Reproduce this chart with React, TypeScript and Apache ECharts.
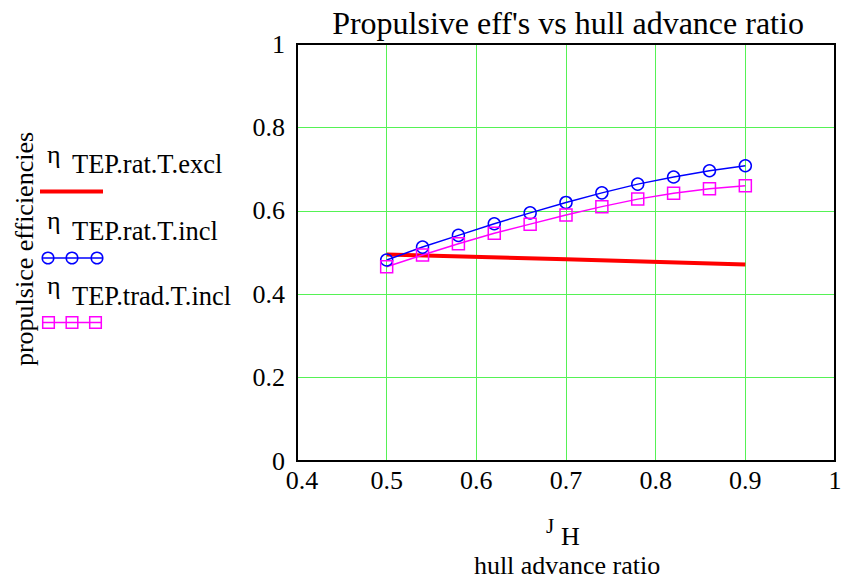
import React, { useEffect, useRef } from "react";
import * as echarts from "echarts";

const xTicks = [0.4, 0.5, 0.6, 0.7, 0.8, 0.9, 1];
const yTicks = [0, 0.2, 0.4, 0.6, 0.8, 1];
const jH = [0.5, 0.54, 0.58, 0.62, 0.66, 0.7, 0.74, 0.78, 0.82, 0.86, 0.9];
const jHExcl = [0.5, 0.7, 0.9];
const etaRatExcl = [0.495, 0.484, 0.471];
const etaRatIncl = [0.482, 0.513, 0.541, 0.569, 0.595, 0.62, 0.643, 0.664, 0.681, 0.696, 0.708];
const etaTradIncl = [0.466, 0.494, 0.521, 0.546, 0.568, 0.59, 0.61, 0.628, 0.642, 0.653, 0.66];
const legendNames = ["TEP.rat.T.excl", "TEP.rat.T.incl", "TEP.trad.T.incl"];

const FONT = "Liberation Serif";
const GREEN = "#55f255";
const RED = "#ff0000";
const BLUE = "#0000ff";
const MAGENTA = "#ff00ff";

const fmt = (v: number) => String(Math.round(v * 10) / 10);

export default function App() {
  const ref = useRef<HTMLDivElement>(null);
  useEffect(() => {
    if (!ref.current) return;
    const chart = echarts.init(ref.current, null, { renderer: "svg" });
    const pairs = (xs: number[], ys: number[]) => xs.map((x, i) => [x, ys[i]]);
    const textStyle = { fontFamily: FONT, fill: "#000" };
    const graphics: any[] = [
      // legend entry 1
      { type: "text", x: 47, y: 154, style: { ...textStyle, text: "η", fontSize: 26, verticalAlign: "middle" } },
      { type: "text", x: 72, y: 164, style: { ...textStyle, text: legendNames[0], fontSize: 26.5, verticalAlign: "middle" } },
      { type: "line", shape: { x1: 40, y1: 191.5, x2: 103, y2: 191.5 }, style: { stroke: RED, lineWidth: 4 } },
      // legend entry 2
      { type: "text", x: 47, y: 220, style: { ...textStyle, text: "η", fontSize: 26, verticalAlign: "middle" } },
      { type: "text", x: 72, y: 231, style: { ...textStyle, text: legendNames[1], fontSize: 26.5, verticalAlign: "middle" } },
      { type: "line", shape: { x1: 42, y1: 258, x2: 103, y2: 258 }, style: { stroke: BLUE, lineWidth: 1.5 } },
      ...[48, 72, 97].map((cx) => ({
        type: "circle",
        shape: { cx, cy: 258, r: 5.8 },
        style: { fill: "none", stroke: BLUE, lineWidth: 1.5 },
      })),
      // legend entry 3
      { type: "text", x: 47, y: 285, style: { ...textStyle, text: "η", fontSize: 26, verticalAlign: "middle" } },
      { type: "text", x: 72, y: 296, style: { ...textStyle, text: legendNames[2], fontSize: 26.5, verticalAlign: "middle" } },
      { type: "line", shape: { x1: 42, y1: 322.5, x2: 101, y2: 322.5 }, style: { stroke: MAGENTA, lineWidth: 1.5 } },
      ...[48.5, 72, 95.5].map((cx) => ({
        type: "rect",
        shape: { x: cx - 5.8, y: 322.5 - 5.8, width: 11.6, height: 11.6 },
        style: { fill: "none", stroke: MAGENTA, lineWidth: 1.5 },
      })),
      // y axis title
      {
        type: "text",
        x: 24,
        y: 249,
        rotation: Math.PI / 2,
        style: { ...textStyle, text: "propulsice efficiencies", fontSize: 26, align: "center", verticalAlign: "middle" },
      },
      // x axis title
      { type: "text", x: 546, y: 526, style: { ...textStyle, text: "J", fontSize: 21, verticalAlign: "middle" } },
      { type: "text", x: 561, y: 536, style: { ...textStyle, text: "H", fontSize: 26, verticalAlign: "middle" } },
      {
        type: "text",
        x: 567,
        y: 565,
        style: { ...textStyle, text: "hull advance ratio", fontSize: 26, align: "center", verticalAlign: "middle" },
      },
    ];

    chart.setOption({
      animation: false,
      backgroundColor: "#ffffff",
      title: {
        text: "Propulsive eff's vs hull advance ratio",
        left: 563,
        textAlign: "center",
        top: 2,
        textStyle: { fontFamily: FONT, fontSize: 32, fontWeight: "normal", color: "#000" },
      },
      grid: {
        left: 297,
        top: 44,
        width: 538,
        height: 417,
        outerBoundsMode: "none",
        containLabel: false,
        show: true,
        z: 5,
        borderColor: "#000",
        borderWidth: 2,
        backgroundColor: "transparent",
      },
      xAxis: {
        type: "value",
        min: xTicks[0],
        max: xTicks[xTicks.length - 1],
        interval: 0.1,
        axisLine: { show: false },
        axisTick: { show: false },
        splitLine: { show: true, lineStyle: { color: GREEN, width: 1 } },
        axisLabel: {
          color: "#000",
          fontFamily: FONT,
          fontSize: 26,
          margin: 6,
          formatter: (v: number) => (Math.abs(v - xTicks[0]) < 1e-9 ? `{first|${fmt(v)}}` : fmt(v)),
          rich: {
            first: { fontFamily: FONT, fontSize: 26, color: "#000", padding: [0, 0, 0, 10] },
          },
          showMinLabel: true,
          showMaxLabel: true,
        },
      },
      yAxis: {
        type: "value",
        min: yTicks[0],
        max: yTicks[yTicks.length - 1],
        interval: 0.2,
        axisLine: { show: false },
        axisTick: { show: false },
        splitLine: { show: true, lineStyle: { color: GREEN, width: 1 } },
        axisLabel: {
          color: "#000",
          fontFamily: FONT,
          fontSize: 26,
          margin: 12,
          formatter: (v: number) => fmt(v),
        },
      },
      graphic: graphics,
      series: [
        {
          name: legendNames[0],
          type: "line",
          data: pairs(jHExcl, etaRatExcl),
          symbol: "none",
          lineStyle: { color: RED, width: 4 },
          itemStyle: { color: RED },
          z: 3,
        },
        {
          name: legendNames[1],
          type: "line",
          data: pairs(jH, etaRatIncl),
          symbol: "circle",
          symbolSize: 12,
          lineStyle: { color: BLUE, width: 1.5 },
          itemStyle: { color: "rgba(0,0,0,0)", borderColor: BLUE, borderWidth: 1.5 },
          z: 4,
        },
        {
          name: legendNames[2],
          type: "line",
          data: pairs(jH, etaTradIncl),
          symbol: "rect",
          symbolSize: 12,
          lineStyle: { color: MAGENTA, width: 1.5 },
          itemStyle: { color: "rgba(0,0,0,0)", borderColor: MAGENTA, borderWidth: 1.5 },
          z: 4,
        },
      ],
    });
    return () => chart.dispose();
  }, []);
  return <div ref={ref} style={{ width: 841, height: 581, position: "absolute", left: 0, top: 0 }} />;
}
